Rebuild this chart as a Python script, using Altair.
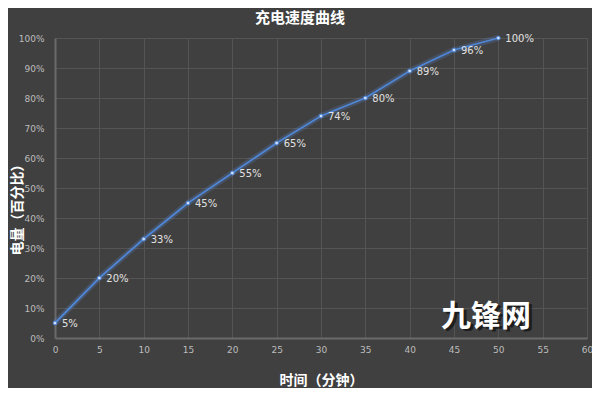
import altair as alt
import pandas as pd

minutes = [0, 5, 10, 15, 20, 25, 30, 35, 40, 45, 50]
charge = [5, 20, 33, 45, 55, 65, 74, 80, 89, 96, 100]
labels = [f"{v}%" for v in charge]
x_ticks = list(range(0, 65, 5))
y_ticks = list(range(0, 110, 10))

df = pd.DataFrame({"t": minutes, "c": charge, "lab": labels})

FONT_CN = "Noto Sans CJK SC"

x = alt.X("t:Q", scale=alt.Scale(domain=[0, 60], nice=False),
          axis=alt.Axis(values=x_ticks, title="时间（分钟）", grid=True,
                        titleX=266, titleY=42, titleBaseline="middle",
                        titleFont=FONT_CN, titleFontSize=14, titleFontWeight="bold",
                        titleColor="#ffffff", labelColor="#bdbdbd", labelFontSize=9,
                        labelPadding=7, tickSize=0, domainColor="#6a6a6a", domainWidth=2,
                        gridColor="#545454", labelFont="DejaVu Sans", labelFlush=False))
y = alt.Y("c:Q", scale=alt.Scale(domain=[0, 100], nice=False),
          axis=alt.Axis(values=y_ticks, title="电量（百分比）", grid=True,
                        labelExpr="datum.value + '%'",
                        titleX=-38, titleY=168, titleAngle=270, titleBaseline="middle",
                        titleFont=FONT_CN, titleFontSize=14, titleFontWeight="bold",
                        titleColor="#ffffff", labelColor="#bdbdbd", labelFontSize=9,
                        labelPadding=11, tickSize=0, domainColor="#6a6a6a", domainWidth=2,
                        gridColor="#545454", labelFont="DejaVu Sans", labelFlush=False))

base = alt.Chart(df)
glow = base.mark_line(color="#5b8fe0", strokeWidth=6, opacity=0.22).encode(x=x, y=y)
line = base.mark_line(color="#4f86d6", strokeWidth=1.8).encode(x=x, y=y)
pts = base.mark_point(filled=True, size=14, color="#cfe0ff", stroke="#4f86d6",
                      strokeWidth=1, opacity=1).encode(x=x, y=y)
txt = base.mark_text(align="left", baseline="middle", dx=7, dy=1, fontSize=10,
                     color="#e2e2e2", font="DejaVu Sans").encode(x=x, y=y, text="lab:N")

wm_df = pd.DataFrame({"w": ["九锋网"]})
wm_shadow = alt.Chart(wm_df).mark_text(fontSize=30, fontWeight="bold", font=FONT_CN,
                                       color="#000000", opacity=0.55, align="center",
                                       baseline="middle").encode(
    text="w:N", x=alt.value(434), y=alt.value(281))
wm = alt.Chart(wm_df).mark_text(fontSize=30, fontWeight="bold", font=FONT_CN,
                                color="#ffffff", align="center",
                                baseline="middle").encode(
    text="w:N", x=alt.value(431), y=alt.value(279))

chart = alt.layer(glow, line, pts, txt, wm_shadow, wm).properties(
    width=532, height=300,
    title=alt.TitleParams("充电速度曲线", font=FONT_CN, fontSize=15, fontWeight="bold",
                          color="#ffffff", anchor="middle", dx=-21, offset=0),
    autosize="none",
    padding={"left": 47, "top": 30, "right": 5, "bottom": 50},
    background="#404040",
).configure_view(stroke=None)

chart.save("out.html", embed_options={"renderer": "svg", "actions": False})
